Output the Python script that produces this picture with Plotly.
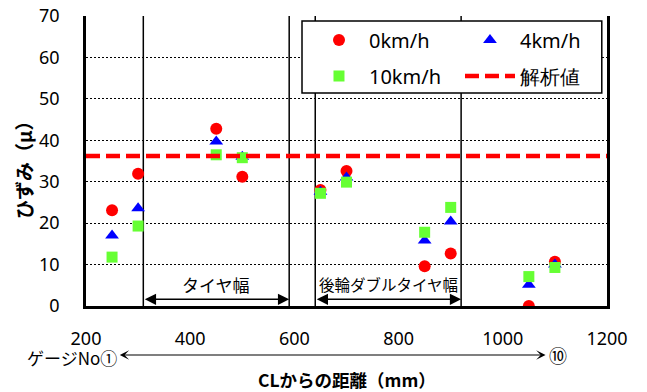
import plotly.graph_objects as go

# ---- data ----
gauge_x = [250, 300, 450, 500, 650, 700, 850, 900, 1050, 1100]
strain_0kmh = [23.1, 31.9, 42.8, 31.2, 28.0, 32.6, 9.6, 12.7, 0.0, 10.7]
strain_4kmh = [17.0, 23.6, 39.7, 36.0, 27.6, 31.0, 15.8, 20.4, 5.1, 10.0]
strain_10kmh = [11.8, 19.3, 36.5, 35.8, 27.2, 29.9, 17.8, 23.8, 7.1, 9.3]
analysis_x = [200, 1200]
analysis_y = [36.2, 36.2]
divider_x = [310, 590, 640, 920]
tire_width = [310, 590]
dual_tire_width = [640, 920]
gauge_span = [262, 1082]
x_ticks = [200, 400, 600, 800, 1000, 1200]
y_ticks = [0, 10, 20, 30, 40, 50, 60, 70]

JP = "Noto Sans CJK JP"
NUM = "Noto Sans"

fig = go.Figure()
fig.add_trace(go.Scatter(x=gauge_x, y=strain_0kmh, mode="markers", name="0km/h",
                         marker=dict(symbol="circle", size=12, color="#FF0000"), legend="legend"))
fig.add_trace(go.Scatter(x=gauge_x, y=strain_4kmh, mode="markers", name="4km/h",
                         marker=dict(symbol="triangle-up", size=12, color="#0000FF"), legend="legend"))
fig.add_trace(go.Scatter(x=gauge_x, y=strain_10kmh, mode="markers", name="10km/h",
                         marker=dict(symbol="square", size=11, color="#66FF33"), legend="legend2"))
fig.add_trace(go.Scatter(x=analysis_x, y=analysis_y, mode="lines", name="解析値",
                         line=dict(color="#FF0000", width=4.5, dash="14px,6px"), legend="legend2"))

shapes = []
for xv in divider_x:
    shapes.append(dict(type="line", xref="x", yref="y", x0=xv, x1=xv, y0=0, y1=70,
                       line=dict(color="black", width=1.5), layer="below"))
# legend frame
shapes.append(dict(type="rect", xref="paper", yref="paper", x0=0.4146, x1=0.990, y0=0.7345, y1=0.983,
                   line=dict(color="black", width=1.5), fillcolor="white", layer="above"))

annotations = []
for span, label, fs in [(tire_width, "タイヤ幅", 17), (dual_tire_width, "後輪ダブルタイヤ幅", 15.5)]:
    annotations.append(dict(x=span[1], y=1.6, ax=span[0], ay=1.6, xref="x", yref="y", axref="x", ayref="y",
                            showarrow=True, arrowhead=2, startarrowhead=2, arrowside="end+start",
                            arrowsize=1.5, startarrowsize=1.5, arrowwidth=1.5, arrowcolor="black", text=""))
    annotations.append(dict(x=(span[0] + span[1]) / 2, y=5.2, xref="x", yref="y", text=label, showarrow=False,
                            font=dict(family=JP, size=fs, color="black")))
# gauge number arrow
annotations.append(dict(x=gauge_span[1], y=-0.169, ax=gauge_span[0], ay=0, xref="x", yref="paper",
                        axref="x", ayref="pixel", showarrow=True, arrowhead=3, startarrowhead=3,
                        arrowside="end+start", arrowsize=1.3, startarrowsize=1.3, arrowwidth=1.2,
                        arrowcolor="black", text=""))
annotations.append(dict(x=gauge_span[0] + 2, y=-0.176, xref="x", yref="paper", xanchor="right", yanchor="middle",
                        text="ゲージNo①", showarrow=False, font=dict(family=JP, size=17, color="black")))
annotations.append(dict(x=gauge_span[1] + 2, y=-0.169, xref="x", yref="paper", xanchor="left", yanchor="middle",
                        text="⑩", showarrow=False, font=dict(family=JP, size=18, color="black")))
# axis titles
annotations.append(dict(x=0.5, y=-0.255, xref="paper", yref="paper", xanchor="center", yanchor="middle",
                        text="<b>CLからの距離（mm）</b>", showarrow=False,
                        font=dict(family=JP, size=17.5, color="black")))
annotations.append(dict(x=-0.121, y=0.486, xref="paper", yref="paper", xanchor="center", yanchor="middle",
                        text="<b>ひずみ（μ）</b>", textangle=-90, showarrow=False,
                        font=dict(family=JP, size=19, color="black")))

legend_common = dict(orientation="h", xanchor="left", yanchor="middle", bgcolor="rgba(0,0,0,0)",
                     borderwidth=0, itemwidth=50, entrywidth=86, entrywidthmode="pixels",
                     font=dict(family=NUM, size=20, color="black"), itemclick=False, itemdoubleclick=False)

fig.update_layout(
    width=647, height=392,
    margin=dict(l=86, r=40, t=16, b=86, autoexpand=False),
    paper_bgcolor="white", plot_bgcolor="white",
    showlegend=True,
    legend=dict(x=0.428, y=0.917, **legend_common),
    legend2=dict(x=0.428, y=0.793, **legend_common),
    shapes=shapes,
    annotations=annotations,
    xaxis=dict(range=[200, 1200], tickvals=x_ticks, showgrid=False, zeroline=False, automargin=False,
               showline=True, linecolor="black", linewidth=2.5, ticks="", ticklabelstandoff=15,
               tickfont=dict(family=NUM, size=18, color="black")),
    yaxis=dict(range=[0, 70], tickvals=y_ticks, showgrid=True, gridcolor="black", gridwidth=1.2,
               griddash="2px,2px", zeroline=False, showline=True, mirror=True, linecolor="black",
               linewidth=2.5, ticks="", ticklabelstandoff=20, automargin=False,
               tickfont=dict(family=NUM, size=18, color="black")),
)

fig.write_html("out.html", config={"displayModeBar": False},
               post_script="document.body.style.margin='0';document.body.style.overflow='hidden';")
